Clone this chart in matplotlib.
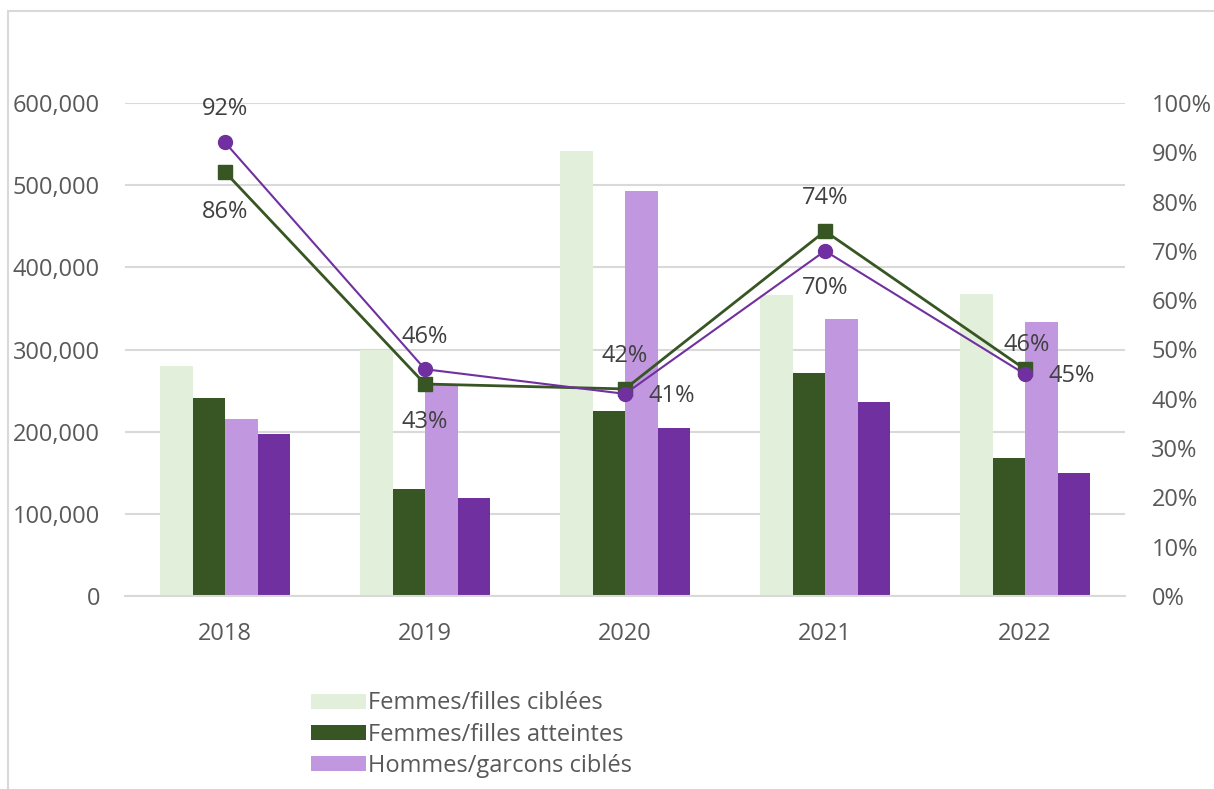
import matplotlib.pyplot as plt
import numpy as np
from matplotlib.patches import Rectangle

plt.rcParams['font.family'] = ['Open Sans', 'DejaVu Sans']

years = ['2018', '2019', '2020', '2021', '2022']
femmes_ciblees = [280000, 300000, 541000, 366000, 368000]
femmes_atteintes = [241000, 130000, 225000, 271000, 168000]
hommes_cibles = [215000, 257000, 493000, 337000, 333000]
hommes_atteints = [197000, 119000, 204000, 236000, 150000]
pct_femmes = [0.86, 0.43, 0.42, 0.74, 0.46]
pct_hommes = [0.92, 0.46, 0.41, 0.70, 0.45]

c_lg = '#E2EFDA'
c_dg = '#375623'
c_lp = '#C198DF'
c_dp = '#7030A0'
txt = '#595959'
fs = 17

fig = plt.figure(figsize=(12.14, 7.89), dpi=100)
# outer frame (partly outside the image)
fig.patches.append(Rectangle((8 / 1214, -0.1), 1.2, 1.1 - 11 / 789, transform=fig.transFigure,
                             fill=False, edgecolor='#D9D9D9', linewidth=1.5))

ax = fig.add_axes([125 / 1214, 1 - 596 / 789, 1000 / 1214, 493 / 789])
x = np.arange(len(years))
w = 0.1625
b1 = ax.bar(x - 1.5 * w, femmes_ciblees, w, color=c_lg, label='Femmes/filles ciblées', zorder=2)
b2 = ax.bar(x - 0.5 * w, femmes_atteintes, w, color=c_dg, label='Femmes/filles atteintes', zorder=2)
b3 = ax.bar(x + 0.5 * w, hommes_cibles, w, color=c_lp, label='Hommes/garcons ciblés', zorder=2)
b4 = ax.bar(x + 1.5 * w, hommes_atteints, w, color=c_dp, label='Hommes/garcons atteints', zorder=2)

ax.set_xlim(-0.5, 4.5)
ax.set_ylim(0, 600000)
ax.set_yticks(np.arange(0, 600001, 100000))
ax.set_yticklabels([f'{int(v):,}' for v in np.arange(0, 600001, 100000)])
ax.set_xticks(x)
ax.set_xticklabels(years)
ax.grid(axis='y', color='#D9D9D9', linewidth=1.5, zorder=0)
ax.set_axisbelow(True)
for s in ['top', 'right', 'left']:
    ax.spines[s].set_visible(False)
ax.spines['bottom'].set_color('#D9D9D9')
ax.spines['bottom'].set_linewidth(1.5)
ax.tick_params(axis='both', length=0, labelsize=fs, labelcolor=txt)
ax.tick_params(axis='y', pad=18)
ax.tick_params(axis='x', pad=19)

ax2 = ax.twinx()
ax2.set_ylim(0, 1)
ax2.set_yticks(np.arange(0, 1.01, 0.1))
ax2.set_yticklabels([f'{int(round(v * 100))}%' for v in np.arange(0, 1.01, 0.1)])
ax2.tick_params(axis='y', length=0, labelsize=fs, labelcolor=txt, pad=19)
for s in ax2.spines.values():
    s.set_visible(False)

ax2.plot(x, pct_femmes, color=c_dg, linewidth=2, marker='s', markersize=10, zorder=3)
ax2.plot(x, pct_hommes, color=c_dp, linewidth=1.5, marker='o', markersize=10, zorder=4)

# label offsets in pixels (dx, dy), up is positive
off_f = [(0, -40), (0, -38), (0, 33), (0, 33), (2, 24)]
off_h = [(0, 33), (0, 32), (47, -2), (0, -37), (47, -2)]
for vals, offs in [(pct_femmes, off_f), (pct_hommes, off_h)]:
    for i, v in enumerate(vals):
        dx, dy = offs[i]
        ax2.annotate(f'{int(round(v * 100))}%', (x[i], v), xytext=(dx * 0.72, dy * 0.72),
                     textcoords='offset points', ha='center', va='center',
                     fontsize=fs, color='#404040', zorder=5)

fig.legend(handles=[b1, b2, b3], loc='upper left', bbox_to_anchor=(302 / 1214, 1 - 682 / 789),
           frameon=False, fontsize=fs, labelcolor=txt, handlelength=2.3, handleheight=0.6,
           handletextpad=0.1, labelspacing=0.3, borderaxespad=0)

fig.savefig('out.png', dpi=100)
